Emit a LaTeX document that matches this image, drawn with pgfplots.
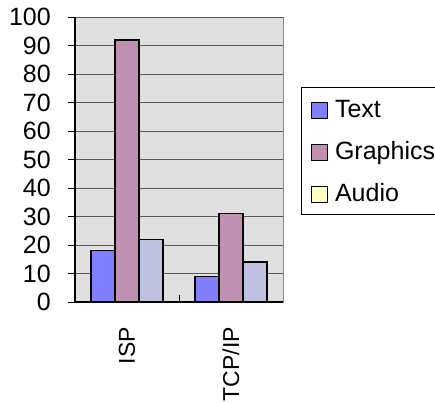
\documentclass[border=0pt]{standalone}
\usepackage{pgfplots}
\pgfplotsset{compat=1.18}
\usepackage{fontspec}
\setmainfont{Liberation Sans}
\definecolor{textbar}{HTML}{8080FF}
\definecolor{graphbar}{HTML}{C090B0}
\definecolor{audiobar}{HTML}{C0C0E0}
\definecolor{audiokey}{HTML}{FFFFC0}
\definecolor{plotbg}{HTML}{E0E0E0}
\begin{document}
\begin{tikzpicture}
\begin{axis}[
  scale only axis, width=208pt, height=285pt,
  ybar=0pt, bar width=0.23,
  xmin=-0.5, xmax=1.5, ymin=0, ymax=100,
  ytick={0,10,...,100},
  xtick={0,1}, xticklabels={ISP,TCP/IP},
  axis lines*=left,
  axis line style={black, line width=1.2pt},
  axis background/.style={fill=plotbg, draw=black!45, line width=0.8pt},
  ymajorgrids, grid style={black!65, line width=0.8pt},
  tick align=outside,
  major tick length=7pt,
  tick style={black, line width=0.9pt},
  x tick style={draw=none},
  extra x ticks={-0.5,0.5}, extra x tick labels={},
  extra x tick style={tick align=inside, grid=none, major tick length=7pt,
    x tick style={draw=black, line width=0.9pt}},
  font=\fontsize{25}{29}\selectfont,
  /pgf/number format/assume math mode=true,
  tick label style={inner sep=0pt},
  yticklabel shift=17pt,
  x tick label style={rotate=90, anchor=east, font=\fontsize{23}{27}\selectfont},
  xticklabel shift=18pt,
  every axis plot/.append style={draw=black, line width=1.5pt},
  legend image code/.code={\path (0pt,0pt); \draw[#1, line width=0.6pt] (9pt,-9pt) rectangle (25pt,7pt);},
  legend cell align=left,
  legend style={at={(1.085,0.754)}, anchor=north west, draw=black, line width=0.6pt, fill=white,
    inner xsep=1pt, inner ysep=9pt, row sep=17pt,
    nodes={inner sep=0pt, text height=21.5pt, text depth=3.5pt},
    /tikz/every odd column/.append style={column sep=7pt}},
]
\addplot[fill=textbar] coordinates {(0,18) (1,9)};
\addplot[fill=graphbar] coordinates {(0,92) (1,31)};
\addplot[fill=audiobar, legend image code/.code={\path (0pt,0pt); \draw[black, line width=0.6pt, fill=audiokey] (9pt,-9pt) rectangle (25pt,7pt);}]
  coordinates {(0,22) (1,14)};
\legend{Text, Graphics, Audio}
\end{axis}
\pgfresetboundingbox
\useasboundingbox (-75pt,-100pt) rectangle (360pt,302pt);
\end{tikzpicture}
\end{document}
